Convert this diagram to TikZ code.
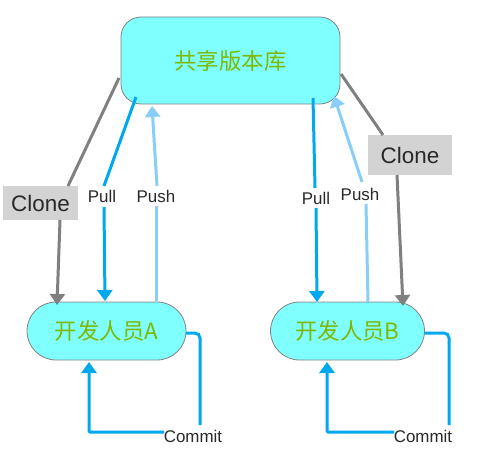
\documentclass[tikz,border=0pt]{standalone}
\usepackage{fontspec}
\setmainfont{Liberation Sans}
\newfontfamily\cjk{Noto Sans CJK SC}
\usetikzlibrary{arrows.meta}
\definecolor{nodefill}{RGB}{128,255,255}
\definecolor{nodetext}{RGB}{125,185,0}
\definecolor{clonegray}{RGB}{128,128,128}
\definecolor{boxgray}{RGB}{211,211,211}
\definecolor{pullblue}{RGB}{0,168,240}
\definecolor{pushblue}{RGB}{135,206,250}
\definecolor{labeltext}{RGB}{40,40,40}
\tikzset{
  repo/.style={draw=clonegray, line width=0.8bp, fill=nodefill, text=nodetext, font=\cjk\fontsize{22.5}{26}\selectfont, inner sep=0pt},
  clonebox/.style={fill=boxgray, text=labeltext, font=\fontsize{22.5}{26}\selectfont, inner sep=0pt},
  smalllabel/.style={text=labeltext, font=\fontsize{17}{20}\selectfont, inner sep=0pt},
  tip/.style={-{Triangle[width=15bp,length=11bp]}},
  cloneline/.style={draw=clonegray, line width=3bp},
  pullline/.style={draw=pullblue, line width=3bp},
  pushline/.style={draw=pushblue, line width=3bp},
}
\begin{document}
\begin{tikzpicture}[x=1bp,y=-1bp]
\useasboundingbox (0,0) rectangle (503,455);
% nodes
\node[repo, rounded corners=20bp, minimum width=219bp, minimum height=87bp] (top) at (230.5,60.5) {共享版本库};
\node[repo, rounded corners=29bp, minimum width=159bp, minimum height=58bp] (A) at (106.5,331) {开发人员A};
\node[repo, rounded corners=29bp, minimum width=154bp, minimum height=58bp] (B) at (347.5,331) {开发人员B};
% labels
\node[clonebox, minimum width=75bp, minimum height=34bp] (cloneL) at (40.5,203) {Clone};
\node[clonebox, minimum width=84bp, minimum height=40bp] (cloneR) at (410,155) {Clone};
\node[smalllabel] (pullL) at (102,196) {Pull};
\node[smalllabel] (pushL) at (156,196) {Push};
\node[smalllabel] (pullR) at (316,198) {Pull};
\node[smalllabel] (pushR) at (360,194) {Push};
\node[smalllabel] (commitA) at (193,436) {Commit};
\node[smalllabel] (commitB) at (423,436) {Commit};
% coordinates
\coordinate (tL1) at (119,78);
\coordinate (tL2) at (136,97);
\coordinate (tL3) at (152,106);
\coordinate (tR1) at (313,98);
\coordinate (tR2) at (334,96);
\coordinate (tR3) at (341,74);
\coordinate (cLt) at (68,186);
\coordinate (cLb) at (60,220);
\coordinate (aC) at (57,305);
\coordinate (aPull) at (105,301);
\coordinate (aPush) at (156,301);
\coordinate (cRt) at (383,135);
\coordinate (cRb) at (397,175);
\coordinate (bC) at (403,306);
\coordinate (bPull) at (317,302);
\coordinate (bPush) at (368,302);
\coordinate (aOut) at (186,333);
\coordinate (aIn) at (89,362);
\coordinate (bOut) at (425,333);
\coordinate (bIn) at (327,362);
% clone
\draw[cloneline] (tL1) -- (cLt);
\draw[cloneline, tip, clonegray] (cLb) -- (aC);
\draw[cloneline] (tR3) -- (cRt);
\draw[cloneline, tip, clonegray] (cRb) -- (bC);
% pull
\draw[pullline] (tL2) -- (104,186);
\draw[pullline, tip, pullblue] (104,207) -- (aPull);
\draw[pullline] (tR1) -- (315,188);
\draw[pullline, tip, pullblue] (316,208) -- (bPull);
% push
\draw[pushline] (aPush) -- (156,206);
\draw[pushline, tip, pushblue] (157,186) -- (tL3);
\draw[pushline] (bPush) -- (366,204);
\draw[pushline, tip, pushblue] (362,182) -- (tR2);
% commit
\draw[pullline, rounded corners=5bp] (aOut) -- (200,333) -- (200,425);
\draw[pullline, tip, pullblue, rounded corners=1bp] (164,432) -- (89,432) -- (aIn);
\draw[pullline, rounded corners=5bp] (bOut) -- (449,333) -- (449,425);
\draw[pullline, tip, pullblue, rounded corners=1bp] (394,432) -- (327,432) -- (bIn);
\end{tikzpicture}
\end{document}
